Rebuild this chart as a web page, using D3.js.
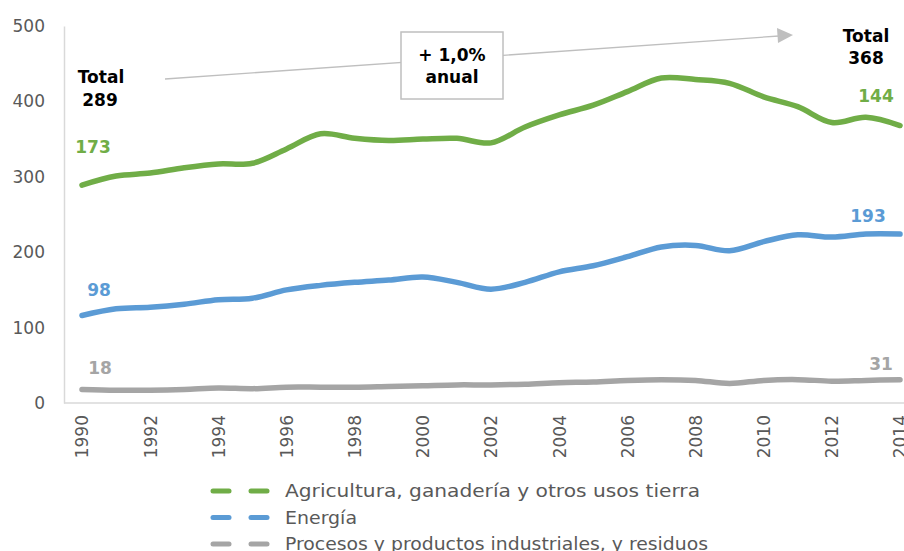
<!DOCTYPE html>
<html>
<head>
<meta charset="utf-8">
<script src="https://cdn.jsdelivr.net/npm/d3@7"></script>
<style>
  html, body { margin: 0; padding: 0; background: #fff; }
  svg { display: block; }
  text { font-family: "DejaVu Sans", Verdana, sans-serif; }
</style>
</head>
<body>
<svg id="chart" width="904" height="551"></svg>
<script>
// Emisiones GEI por sector (stacked), 1990-2014
const years = d3.range(1990, 2015);
const industrial  = [18, 17, 17, 18, 20, 19, 21, 21, 21, 22, 23, 24, 24, 25, 27, 28, 30, 31, 30, 26, 30, 31, 29, 30, 31];
const energy      = [98, 108, 110, 113, 117, 120, 129, 135, 139, 141, 144, 136, 127, 135, 147, 154, 164, 176, 179, 176, 184, 192, 191, 194, 193];
const agriculture = [173, 176, 178, 181, 180, 179, 187, 201, 191, 185, 183, 191, 194, 206, 208, 213, 219, 224, 220, 222, 192, 170, 152, 155, 144];

const yTicks = [0, 100, 200, 300, 400, 500];
const xTicks = d3.range(1990, 2015, 2);

const seriesNames = {
  agri: "Agricultura, ganadería y otros usos tierra",
  energy: "Energía",
  ind: "Procesos y productos industriales, y residuos"
};
const colors = { agri: "#70AD47", energy: "#5B9BD5", ind: "#A5A5A5" };

const rows = years.map((y, i) => ({ year: y, ind: industrial[i], energy: energy[i], agri: agriculture[i] }));
const stack = d3.stack().keys(["ind", "energy", "agri"]);
const layers = stack(rows);

const svg = d3.select("#chart");
const x = d3.scaleLinear().domain([1990, 2014]).range([82, 900]);
const y = d3.scaleLinear().domain([0, 500]).range([403, 26]);

// axes
const gy = svg.append("g").attr("transform", "translate(64,0)")
  .call(d3.axisLeft(y).tickValues(yTicks).tickSize(0).tickPadding(19));
gy.select(".domain").attr("stroke", "#D9D9D9").attr("stroke-width", 1.5);
gy.selectAll("text").attr("font-size", 17).attr("fill", "#595959")
  .attr("font-family", "DejaVu Sans, Verdana, sans-serif");

const gx = svg.append("g").attr("transform", "translate(0,403)")
  .call(d3.axisBottom(x).tickValues(xTicks).tickFormat(d3.format("d")).tickSize(0));
gx.select(".domain").attr("d", "M64,0H904").attr("stroke", "#D9D9D9").attr("stroke-width", 1.5);
gx.selectAll("text")
  .attr("font-size", 17).attr("fill", "#595959")
  .attr("font-family", "DejaVu Sans, Verdana, sans-serif")
  .attr("transform", "rotate(-90)")
  .attr("text-anchor", "end")
  .attr("x", -12).attr("y", 0).attr("dy", "0.35em");

// stacked lines
const line = d3.line()
  .x(d => x(d.data.year))
  .y(d => y(d[1]))
  .curve(d3.curveCatmullRom.alpha(0.5));

svg.append("g").selectAll("path")
  .data(layers)
  .join("path")
  .attr("d", line)
  .attr("fill", "none")
  .attr("stroke", d => colors[d.key])
  .attr("stroke-width", 5.5)
  .attr("stroke-linecap", "round")
  .attr("stroke-linejoin", "round");

// value labels
const last = years.length - 1;
const lab = (tx, ty, txt, col, anchor) => svg.append("text")
  .attr("x", tx).attr("y", ty).attr("text-anchor", anchor || "middle")
  .attr("font-size", 17).attr("font-weight", "bold").attr("fill", col).text(txt);

lab(93, 153, agriculture[0], colors.agri);
lab(99, 296, energy[0], colors.energy);
lab(100, 374, industrial[0], colors.ind);
lab(876, 102, agriculture[last], colors.agri);
lab(868, 222, energy[last], colors.energy);
lab(881, 370, industrial[last], colors.ind);

const total0 = industrial[0] + energy[0] + agriculture[0];
const totalN = industrial[last] + energy[last] + agriculture[last];
lab(101, 83, "Total", "#000");
lab(100, 106, total0, "#000");
lab(866, 42, "Total", "#000");
lab(866, 64, totalN, "#000");

// growth arrow
svg.append("line")
  .attr("x1", 165).attr("y1", 79).attr("x2", 779).attr("y2", 36)
  .attr("stroke", "#BFBFBF").attr("stroke-width", 1.3);
svg.append("path")
  .attr("d", "M793,35 L777,28 L778,43 Z")
  .attr("fill", "#BFBFBF");

svg.append("rect")
  .attr("x", 401).attr("y", 32).attr("width", 102).attr("height", 67)
  .attr("fill", "#fff").attr("stroke", "#BFBFBF").attr("stroke-width", 1.5);
svg.append("text").attr("x", 452).attr("y", 61).attr("text-anchor", "middle")
  .attr("font-size", 17).attr("font-weight", "bold").attr("fill", "#000").text("+ 1,0%");
svg.append("text").attr("x", 452).attr("y", 83).attr("text-anchor", "middle")
  .attr("font-size", 17).attr("font-weight", "bold").attr("fill", "#000").text("anual");

// legend
const legendItems = [
  { key: "agri", w: 415 },
  { key: "energy", w: 72 },
  { key: "ind", w: 423 }
];
const lg = svg.append("g");
legendItems.forEach((it, i) => {
  const cy = 491 + i * 26.5;
  lg.append("line").attr("x1", 213).attr("x2", 229).attr("y1", cy).attr("y2", cy)
    .attr("stroke", colors[it.key]).attr("stroke-width", 5).attr("stroke-linecap", "round");
  lg.append("line").attr("x1", 251).attr("x2", 267).attr("y1", cy).attr("y2", cy)
    .attr("stroke", colors[it.key]).attr("stroke-width", 5).attr("stroke-linecap", "round");
  lg.append("text").attr("x", 285).attr("y", cy + 6)
    .attr("font-size", 17).attr("fill", "#595959")
    .attr("font-family", "DejaVu Sans Condensed, DejaVu Sans, sans-serif")
    .attr("textLength", it.w).attr("lengthAdjust", "spacingAndGlyphs")
    .text(seriesNames[it.key]);
});
</script>
</body>
</html>
